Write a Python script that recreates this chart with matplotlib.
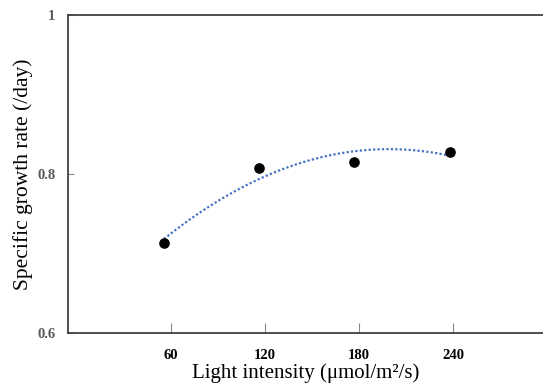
import matplotlib
matplotlib.use("Agg")
import matplotlib.pyplot as plt
import numpy as np

plt.rcParams['font.family'] = ['Liberation Serif', 'DejaVu Serif']

# data
light = [55.7, 116.2, 176.8, 237.6]
growth = [0.714, 0.808, 0.815, 0.828]
xticks = [60, 120, 180, 240]
yticks = [0.6, 0.8, 1.0]
ylabels = ["0.6", "0.8", "1"]

axis_col = "#404040"
tick_col = "#595959"

fig = plt.figure(figsize=(5.43, 3.89), dpi=100)
ax = fig.add_axes([0.1252, 0.1432, 0.8748, 0.8175])

# 2nd order polynomial trendline like excel
coef = np.polyfit(light, growth, 2)
xs = np.linspace(light[0], light[-1], 200)
ax.plot(xs, np.polyval(coef, xs), linestyle=(0, (1, 1)), color="#4472C4", lw=1.6, zorder=2)

ax.scatter(light, growth, s=44, color="black", zorder=3)

ax.set_xlim(-5.4, 297)
ax.set_ylim(0.6, 1.0)

ax.set_xticks(xticks)
ax.set_xticklabels([str(t) for t in xticks])
ax.set_yticks(yticks)
ax.set_yticklabels(ylabels)

ax.tick_params(axis="x", direction="in", length=7, width=0.8, color="#888888", pad=11,
               labelsize=10.5, labelcolor="black")
ax.tick_params(axis="y", direction="in", length=4, width=0.8, color="#888888", pad=9,
               labelsize=10.5, labelcolor=tick_col)
for lab in ax.get_xticklabels() + ax.get_yticklabels():
    lab.set_fontweight("bold")

for side in ["left", "bottom", "top"]:
    ax.spines[side].set_color(axis_col)
    ax.spines[side].set_linewidth(1.3)
ax.spines["right"].set_visible(False)

ax.set_xlabel("Light intensity (\u03bcmol/m\u00b2/s)", fontsize=15, labelpad=1)
ax.set_ylabel("Specific growth rate (/day)", fontsize=15.5, labelpad=3)

fig.savefig("out.png", dpi=100)
